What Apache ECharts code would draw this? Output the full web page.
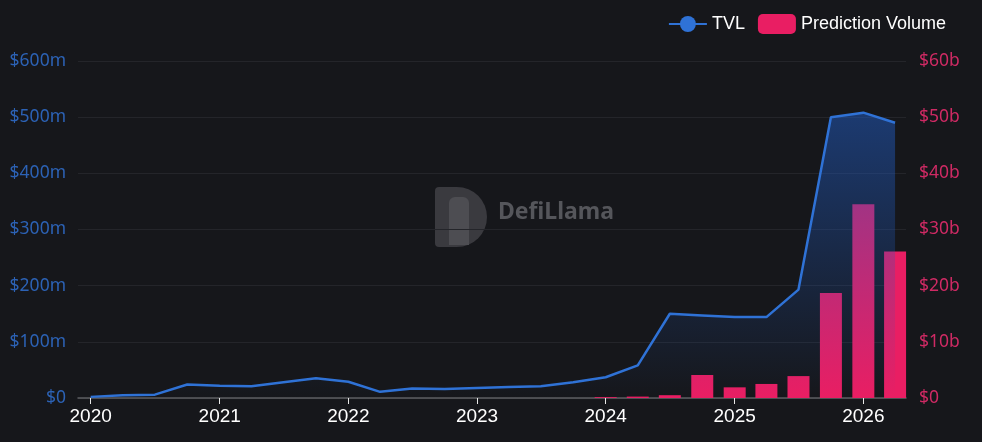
<!DOCTYPE html>
<html>
<head>
<meta charset="utf-8">
<script src="https://cdn.jsdelivr.net/npm/echarts@6/dist/echarts.min.js"></script>
<style>
  html, body { margin: 0; padding: 0; background: #16171b; }
  #chart { width: 982px; height: 442px; }
</style>
</head>
<body>
<div id="chart"></div>
<script>
// quarterly points
var dates = [
  '2020-01-01', '2020-04-01', '2020-07-01', '2020-10-01',
  '2021-01-01', '2021-04-01', '2021-07-01', '2021-10-01',
  '2022-01-01', '2022-04-01', '2022-07-01', '2022-10-01',
  '2023-01-01', '2023-04-01', '2023-07-01', '2023-10-01',
  '2024-01-01', '2024-04-01', '2024-07-01', '2024-10-01',
  '2025-01-01', '2025-04-01', '2025-07-01', '2025-10-01',
  '2026-01-01', '2026-04-01'
];
// TVL in $m
var tvl = [2, 5, 6, 24, 22, 21, 28, 35, 29, 11, 17, 16, 18, 19.5, 21, 28, 37, 58, 150, 147, 144, 144, 193, 500, 508, 490];
// prediction volume in $b
var volume = [null, null, null, null, null, null, null, null, null, null, null, null, null, null, null, null,
  0.15, 0.25, 0.5, 4.1, 1.9, 2.5, 3.9, 18.7, 34.5, 26.1];

var leftTicks = { min: 0, max: 600e6, step: 100e6 };
var rightTicks = { min: 0, max: 60e9, step: 10e9 };

var tvlData = dates.map(function (d, i) { return [d, tvl[i] * 1e6]; });
var volData = dates.map(function (d, i) { return [d, volume[i] == null ? null : volume[i] * 1e9]; });

var font = '"Noto Sans", "Liberation Sans", sans-serif';

// echarts widens a time axis by the bar width when bars sit on it,
// so pull the ends in by half a bar to land on the wanted range
var gridLeft = 78, gridRight = 76, barW = 22;
var axisLen = 982 - gridLeft - gridRight;
var xMin = +new Date('2019-11-26'), xMax = +new Date('2026-05-02');
var xPad = (xMax - xMin) * (barW / 2) / axisLen;

var myChart = echarts.init(document.getElementById('chart'));
var option = {
  backgroundColor: '#16171b',
  animation: false,
  textStyle: { fontFamily: font },
  legend: {
    data: ['TVL', 'Prediction Volume'],
    top: 9,
    right: 31,
    itemWidth: 38,
    itemHeight: 20,
    itemGap: 13,
    textStyle: { color: '#ffffff', fontSize: 18, fontFamily: '"Liberation Sans", Arial, sans-serif' }
  },
  grid: { left: gridLeft, right: gridRight, top: 61, bottom: 44 },
  graphic: [
    {
      type: 'group',
      left: 435,
      top: 187,
      silent: true,
      children: [
        { type: 'rect', shape: { x: 0, y: 0, width: 52, height: 60, r: [4, 30, 30, 4] }, style: { fill: '#3a3a3f' } },
        { type: 'rect', shape: { x: 14, y: 10, width: 20, height: 48, r: [6, 6, 0, 0] }, style: { fill: '#4d4d52' } },
        { type: 'text', left: 63, top: 14, style: { text: 'DefiLlama', fill: '#55565b', fontSize: 23, fontWeight: 'bold', fontFamily: font } }
      ]
    }
  ],
  xAxis: {
    type: 'time',
    min: xMin + xPad,
    max: xMax - xPad,
    splitNumber: 7,
    axisLine: { lineStyle: { color: '#5c5d62', width: 1.5 } },
    axisTick: { show: true, length: 6, lineStyle: { color: '#e8e8e8' } },
    splitLine: { show: false },
    axisLabel: {
      color: '#ffffff',
      fontSize: 19,
      margin: 9,
      fontFamily: '"Liberation Sans", Arial, sans-serif',
      formatter: '{yyyy}'
    }
  },
  yAxis: [
    {
      type: 'value',
      min: leftTicks.min,
      max: leftTicks.max,
      interval: leftTicks.step,
      position: 'left',
      axisLine: { show: false },
      axisTick: { show: false },
      splitLine: { lineStyle: { color: '#24252a' } },
      axisLabel: {
        color: '#2c62b5',
        fontSize: 17.5,
        margin: 12,
        formatter: function (v) { return v === 0 ? '$0' : '$' + (v / 1e6) + 'm'; }
      }
    },
    {
      type: 'value',
      min: rightTicks.min,
      max: rightTicks.max,
      interval: rightTicks.step,
      position: 'right',
      axisLine: { show: false },
      axisTick: { show: false },
      splitLine: { show: false },
      axisLabel: {
        color: '#cf2a64',
        fontSize: 17.5,
        margin: 13,
        formatter: function (v) { return v === 0 ? '$0' : '$' + (v / 1e9) + 'b'; }
      }
    }
  ],
  series: [
    {
      name: 'Prediction Volume',
      type: 'bar',
      yAxisIndex: 1,
      barWidth: barW,
      data: volData,
      itemStyle: { color: '#e91e63' }
    },
    {
      name: 'TVL',
      type: 'line',
      yAxisIndex: 0,
      data: tvlData,
      symbol: 'circle',
      symbolSize: 12,
      showSymbol: false,
      lineStyle: { color: '#2f72d6', width: 2.5 },
      itemStyle: { color: '#2f72d6' },
      areaStyle: {
        color: new echarts.graphic.LinearGradient(0, 0, 0, 1, [
          { offset: 0, color: 'rgba(33, 90, 190, 0.75)' },
          { offset: 1, color: 'rgba(33, 90, 190, 0.0)' }
        ])
      }
    }
  ]
};
myChart.setOption(option);
</script>
</body>
</html>
